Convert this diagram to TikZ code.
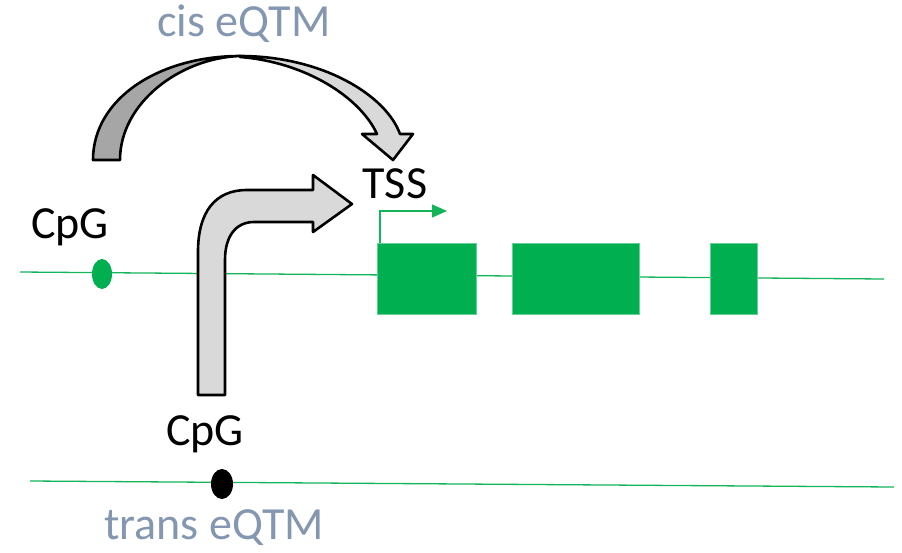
\documentclass[tikz,border=0pt]{standalone}
\usepackage{fontspec}
\setmainfont{Carlito}
\usepackage{tikz}
\usetikzlibrary{calc}
\usetikzlibrary{arrows.meta}
\usetikzlibrary{positioning}
\usetikzlibrary{shapes.geometric}
\definecolor{exongreen}{RGB}{0, 176, 80}
\definecolor{linegreen}{RGB}{20, 180, 90}
\definecolor{slate}{RGB}{132, 151, 176}
\definecolor{lightgrey}{RGB}{217, 217, 217}
\definecolor{darkgrey}{RGB}{166, 166, 166}

\tikzset{
    gline/.style   = {draw=linegreen, line width=1.3pt},
    exon/.style    = {fill=exongreen, draw=exongreen!60, line width=0.8pt},
    bigtext/.style = {font=\fontsize{46}{50}\selectfont, inner sep=0pt, anchor=base},
    arrowbody/.style = {draw=black, line width=2.6pt, line join=round}
}

\begin{document}
\begin{tikzpicture}[x=1pt, y=-1pt]
            \useasboundingbox (0,0) rectangle (902,552);
            \draw[gline] (20,272) coordinate (topa) -- (884,279) coordinate (topb);
            \draw[gline] (30,481) coordinate (bota) -- (894,487) coordinate (botb);
            \filldraw[exon] (377,243) rectangle (476,314) coordinate (exonA);
            \filldraw[exon] (512,243) rectangle (639,314) coordinate (exonB);
            \filldraw[exon] (710,243) rectangle (757,314) coordinate (exonC);
            \coordinate (tssfoot) at (380,243);
            \coordinate (tsstip)  at (447,211);
            \draw[linegreen, line width=1.3pt, -{Triangle[length=15pt, width=13pt]}] (tssfoot) |- (tsstip);
            \node[ellipse, fill=exongreen, minimum width=20pt, minimum height=30pt, inner sep=0pt] (cpgcis) at (102,274) {};
            \node[ellipse, fill=black, minimum width=22pt, minimum height=30pt, inner sep=0pt] (cpgtrans) at (222,484) {};
            \node[bigtext] (cpgcislabel)   at (70,238)  {CpG};
            \node[bigtext] (cpgtranslabel) at (205,445) {CpG};
            \node[bigtext] (tsslabel)      at (395,198) {TSS};
            \node[bigtext, text=slate] (cislabel)   at (244,36)  {cis eQTM};
            \node[bigtext, text=slate] (translabel) at (214,539) {trans eQTM};
            \filldraw[arrowbody, fill=darkgrey] (93,160) .. controls (93,98) and (160,56) .. (240,56)
                 .. controls (180,58) and (120,103) .. (120,160) -- cycle;
            \filldraw[arrowbody, fill=lightgrey] (240,56) .. controls (322,56) and (386,95) .. (400,134)
                 -- (413,134) -- (393,160) -- (362,134) -- (377,134)
                 .. controls (360,97) and (305,62) .. (240,57) -- cycle;
            \filldraw[arrowbody, fill=lightgrey] (198,395) -- (198,252) .. controls (198,212) and (215,190) .. (247,190)
                 -- (313,190) -- (313,175) -- (352,204) -- (313,232) -- (313,222) -- (254,222)
                 .. controls (236,222) and (225,236) .. (225,260) -- (225,395) -- cycle;
        \end{tikzpicture}
\end{document}
